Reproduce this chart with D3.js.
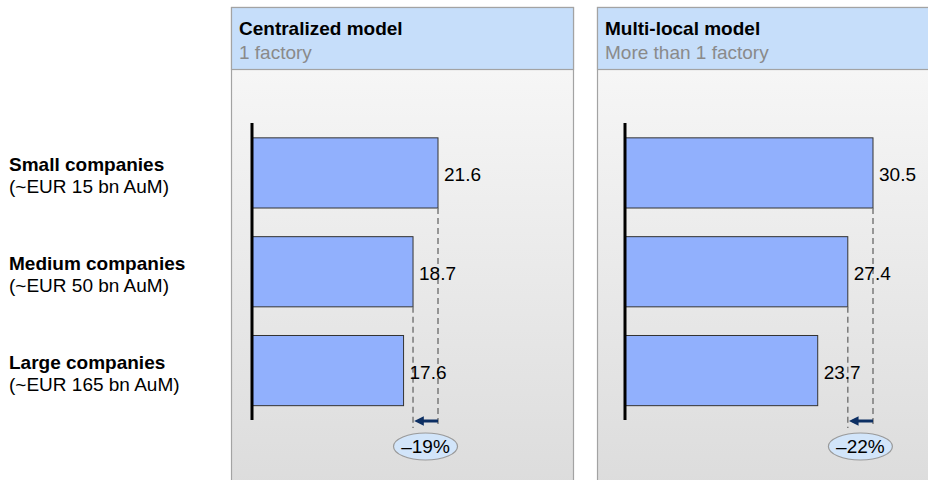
<!DOCTYPE html>
<html>
<head>
<meta charset="utf-8">
<script src="https://cdn.jsdelivr.net/npm/d3@7"></script>
<style>
  body { margin: 0; background: #fff; }
  svg { display: block; font-family: "Liberation Sans", Arial, sans-serif; }
</style>
</head>
<body>
<div id="chart"></div>
<script>
const categories = ["Small companies", "Medium companies", "Large companies"];
const categoryNotes = ["(~EUR 15 bn AuM)", "(~EUR 50 bn AuM)", "(~EUR 165 bn AuM)"];
const panelTitles = ["Centralized model", "Multi-local model"];
const panelSubtitles = ["1 factory", "More than 1 factory"];
const centralizedValues = [21.6, 18.7, 17.6];
const multiLocalValues = [30.5, 27.4, 23.7];
const deltaLabels = ["\u201319%", "\u201322%"];

const width = 928, height = 480;

const svg = d3.select("#chart").append("svg")
  .attr("width", width)
  .attr("height", height);

const defs = svg.append("defs");
const grad = defs.append("linearGradient")
  .attr("id", "bodyGrad")
  .attr("x1", 0).attr("y1", 0).attr("x2", 0).attr("y2", 1);
grad.append("stop").attr("offset", "0%").attr("stop-color", "#fafafa");
grad.append("stop").attr("offset", "100%").attr("stop-color", "#dcdcdc");

defs.append("marker")
  .attr("id", "arrowHead")
  .attr("viewBox", "0 0 10 10")
  .attr("refX", 6).attr("refY", 5)
  .attr("markerWidth", 3.2).attr("markerHeight", 3.2)
  .attr("markerUnits", "strokeWidth")
  .attr("orient", "auto")
  .append("path")
  .attr("d", "M0,0 L10,5 L0,10 Z")
  .attr("fill", "#0d2f63");

const y = d3.scaleBand()
  .domain(categories)
  .range([124, 419.5])
  .paddingInner(0.29)
  .paddingOuter(0.14);

// row labels
const rows = svg.append("g").attr("class", "row-labels");
categories.forEach((c, i) => {
  const cy = y(c) + y.bandwidth() / 2;
  rows.append("text")
    .attr("x", 9).attr("y", cy - 2)
    .attr("font-size", 19).attr("font-weight", "bold")
    .attr("fill", "#000")
    .text(c);
  rows.append("text")
    .attr("x", 9).attr("y", cy + 20)
    .attr("font-size", 19)
    .attr("fill", "#000")
    .text(categoryNotes[i]);
});

const panels = [
  { left: 231, right: 573, axisX: 252, span: 186, values: centralizedValues },
  { left: 597, right: 940, axisX: 625, span: 248, values: multiLocalValues }
];

panels.forEach((p, k) => {
  const g = svg.append("g").attr("class", "panel");

  // body and header
  g.append("rect")
    .attr("x", p.left + 0.5).attr("y", 7.5)
    .attr("width", p.right - p.left).attr("height", height)
    .attr("fill", "url(#bodyGrad)")
    .attr("stroke", "#a3a3a3").attr("stroke-width", 1.2);
  g.append("rect")
    .attr("x", p.left + 0.5).attr("y", 7.5)
    .attr("width", p.right - p.left).attr("height", 62)
    .attr("fill", "#c6defa")
    .attr("stroke", "#a3a3a3").attr("stroke-width", 1.2);
  g.append("text")
    .attr("x", p.left + 8).attr("y", 35)
    .attr("font-size", 19).attr("font-weight", "bold")
    .attr("fill", "#000")
    .text(panelTitles[k]);
  g.append("text")
    .attr("x", p.left + 8).attr("y", 59)
    .attr("font-size", 19)
    .attr("fill", "#8a8a8a")
    .text(panelSubtitles[k]);

  const x = d3.scaleLinear()
    .domain([0, d3.max(p.values)])
    .range([p.axisX, p.axisX + p.span]);

  const data = categories.map((c, i) => ({ cat: c, val: p.values[i] }));

  // bars
  g.selectAll("rect.bar")
    .data(data)
    .join("rect")
    .attr("class", "bar")
    .attr("x", x(0))
    .attr("y", d => y(d.cat))
    .attr("width", d => x(d.val) - x(0))
    .attr("height", y.bandwidth())
    .attr("fill", "#91b0fd")
    .attr("stroke", "#333")
    .attr("stroke-width", 1);

  // dashed reference lines (from first and second bar ends)
  const arrowY = 421;
  [0, 1].forEach(i => {
    g.append("line")
      .attr("x1", x(p.values[i])).attr("x2", x(p.values[i]))
      .attr("y1", y(categories[i]) + y.bandwidth())
      .attr("y2", arrowY + 7)
      .attr("stroke", "#7a7a7a")
      .attr("stroke-width", 1.5)
      .attr("stroke-dasharray", "6,4");
  });

  // value labels
  g.selectAll("text.val")
    .data(data)
    .join("text")
    .attr("class", "val")
    .attr("x", d => x(d.val) + 6)
    .attr("y", d => y(d.cat) + y.bandwidth() / 2 + 8)
    .attr("font-size", 19)
    .attr("fill", "#000")
    .text(d => d.val.toFixed(1));

  // axis line
  g.append("line")
    .attr("x1", x(0)).attr("x2", x(0))
    .attr("y1", 123).attr("y2", 420)
    .attr("stroke", "#000").attr("stroke-width", 3);

  // arrow
  g.append("line")
    .attr("x1", x(p.values[0])).attr("x2", x(p.values[1]) + 5)
    .attr("y1", arrowY).attr("y2", arrowY)
    .attr("stroke", "#0d2f63").attr("stroke-width", 3)
    .attr("marker-end", "url(#arrowHead)");

  // delta bubble
  const cx = (x(p.values[0]) + x(p.values[1])) / 2;
  g.append("ellipse")
    .attr("cx", cx).attr("cy", 446.5)
    .attr("rx", 32).attr("ry", 13.5)
    .attr("fill", "#d2e5fa")
    .attr("stroke", "#9a9a9a").attr("stroke-width", 1.2);
  g.append("text")
    .attr("x", cx).attr("y", 453)
    .attr("text-anchor", "middle")
    .attr("font-size", 19)
    .attr("fill", "#000")
    .text(deltaLabels[k]);
});
</script>
</body>
</html>
